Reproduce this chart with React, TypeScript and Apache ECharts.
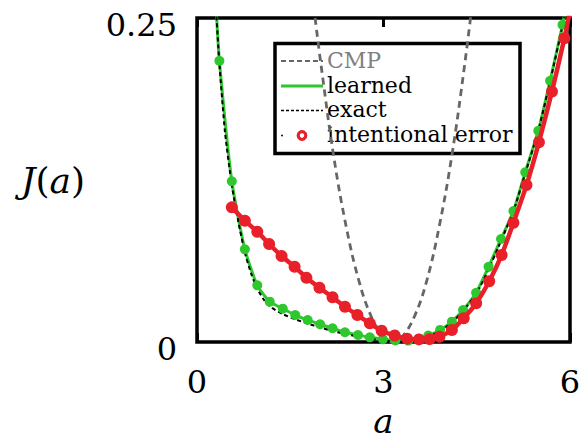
import React, { useEffect, useRef } from "react";
import * as echarts from "echarts";

// x ticks and y ticks
const xTicks = [0, 3, 6];
const yTicks = [0, 0.25];

// CMP (gray dashed)
const cmpA = [1.9, 2.0, 2.2, 2.4, 2.6, 2.8, 3.0, 3.15, 3.3, 3.5, 3.7, 3.9, 4.1, 4.3, 4.45];
const cmpJ = [0.25, 0.212, 0.143, 0.089, 0.048, 0.02, 0.004, 0.0, 0.004, 0.02, 0.048, 0.09, 0.144, 0.212, 0.27];

// learned (green) sample points
const learnedA = [0.36, 0.56, 0.77, 0.97, 1.17, 1.38, 1.58, 1.78, 1.98, 2.18, 2.38, 2.59, 2.78, 2.99, 3.19, 3.4, 3.57, 3.72, 3.91, 4.1, 4.28, 4.49, 4.69, 4.89, 5.09, 5.28, 5.49, 5.68, 5.88];
const learnedJ = [0.217, 0.124, 0.0715, 0.0437, 0.0311, 0.0257, 0.0208, 0.017, 0.0137, 0.0106, 0.0075, 0.0054, 0.0036, 0.0021, 0.0012, 0.0011, 0.0025, 0.005, 0.0093, 0.0157, 0.0247, 0.038, 0.058, 0.0795, 0.101, 0.131, 0.163, 0.2016, 0.2448];
const learnedStart = [0.31, 0.256];
const learnedEnd = [5.97, 0.266];

// exact (black dashed)
const exactA = [0.3, 0.36, 0.45, 0.56, 0.66, 0.77, 0.87, 0.97, 1.07, 1.17, 1.38, 1.58, 1.78, 1.98, 2.18, 2.38, 2.59, 2.78, 2.99, 3.19, 3.4, 3.57, 3.72, 3.91, 4.1, 4.28, 4.49, 4.69, 4.89, 5.09, 5.28, 5.49, 5.68, 5.88, 5.97];
const exactJ = [0.262, 0.215, 0.162, 0.121, 0.094, 0.069, 0.053, 0.041, 0.033, 0.0275, 0.0215, 0.0175, 0.0142, 0.0112, 0.0085, 0.0062, 0.0042, 0.0026, 0.0012, 0.0004, 0.0004, 0.0015, 0.004, 0.0085, 0.015, 0.024, 0.037, 0.056, 0.078, 0.101, 0.13, 0.163, 0.201, 0.244, 0.265];

// intentional error (red)
const errorA = [0.56, 0.77, 0.97, 1.16, 1.36, 1.57, 1.76, 1.97, 2.18, 2.38, 2.58, 2.78, 2.97, 3.18, 3.38, 3.57, 3.74, 3.9, 4.1, 4.29, 4.49, 4.7, 4.9, 5.09, 5.3, 5.5, 5.71, 5.91];
const errorJ = [0.1039, 0.0936, 0.0851, 0.0756, 0.0664, 0.0581, 0.0496, 0.0419, 0.0345, 0.0272, 0.0208, 0.0144, 0.0087, 0.005, 0.0026, 0.002, 0.0022, 0.0041, 0.0093, 0.0183, 0.0299, 0.0469, 0.0671, 0.092, 0.1211, 0.1541, 0.1933, 0.2344];
const errorEnd = [5.99, 0.253];

const legendNames = ["CMP", "learned", "exact", "intentional error"];

const GREEN = "#2ec82e";
const RED = "#e8202a";
const SERIF = "DejaVu Serif";

const zip = (a: number[], b: number[]) => a.map((v, i) => [v, b[i]]);

export default function App() {
  const ref = useRef<HTMLDivElement>(null);
  useEffect(() => {
    if (!ref.current) return;
    const chart = echarts.init(ref.current, undefined, { renderer: "svg" });
    const learnedPts = zip(learnedA, learnedJ);
    const errorPts = zip(errorA, errorJ);
    const legX = 275;
    const legY = 43.5;
    const rowY = [61, 86, 110.5, 135.5];
    chart.setOption({
      animation: false,
      textStyle: { fontFamily: SERIF },
      grid: {
        left: 197,
        right: 18,
        top: 18,
        bottom: 97,
        show: true,
        borderColor: "#000",
        borderWidth: 3.5,
        backgroundColor: "#fff",
        containLabel: false,
        outerBoundsMode: "none",
      },
      xAxis: [
        {
          type: "value",
          min: xTicks[0],
          max: xTicks[xTicks.length - 1],
          interval: 3,
          splitLine: { show: false },
          axisLine: { show: false },
          axisTick: { show: true, inside: true, length: 9, lineStyle: { width: 3, color: "#000" } },
          axisLabel: {
            fontSize: 32,
            fontFamily: SERIF,
            color: "#000",
            margin: 24,
            showMinLabel: true,
            showMaxLabel: true,
          },
          name: "a",
          nameLocation: "middle",
          nameGap: 62,
          nameTextStyle: { fontSize: 34, fontFamily: SERIF, fontStyle: "italic", color: "#000" },
        },
        {
          type: "value",
          position: "top",
          min: xTicks[0],
          max: xTicks[xTicks.length - 1],
          interval: 3,
          splitLine: { show: false },
          axisLine: { show: false },
          axisTick: { show: true, inside: true, length: 9, lineStyle: { width: 3, color: "#000" } },
          axisLabel: { show: false },
        },
      ],
      yAxis: {
        type: "value",
        min: yTicks[0],
        max: yTicks[yTicks.length - 1],
        interval: 0.25,
        splitLine: { show: false },
        axisLine: { show: false },
        axisTick: { show: false },
        axisLabel: {
          fontSize: 32,
          fontFamily: SERIF,
          color: "#000",
          margin: 20,
          verticalAlign: "top",
          lineHeight: 14,
          showMinLabel: true,
          showMaxLabel: true,
        },
        name: "{i|J}{r|(}{i|a}{r|)}",
        nameLocation: "middle",
        nameRotate: 0,
        nameGap: 112,
        nameTextStyle: {
          color: "#000",
          fontFamily: SERIF,
          fontSize: 36,
          rich: {
            i: { fontSize: 36, fontFamily: SERIF, fontStyle: "italic", color: "#000" },
            r: { fontSize: 36, fontFamily: SERIF, color: "#000" },
          },
        },
      },
      series: [
        {
          name: legendNames[0],
          type: "line",
          data: zip(cmpA, cmpJ),
          smooth: 0.4,
          showSymbol: false,
          lineStyle: { color: "#666", width: 2.8, type: [7, 5] },
          z: 1,
        },
        {
          name: legendNames[1],
          type: "line",
          data: [learnedStart, ...learnedPts, learnedEnd],
          smooth: 0.2,
          showSymbol: false,
          lineStyle: { color: GREEN, width: 3 },
          z: 2,
        },
        {
          name: legendNames[2],
          type: "line",
          data: zip(exactA, exactJ),
          smooth: 0.2,
          showSymbol: false,
          lineStyle: { color: "#000", width: 2, type: [4, 3] },
          z: 3,
        },
        {
          name: legendNames[1] + " points",
          type: "scatter",
          data: learnedPts,
          symbolSize: 10,
          itemStyle: { color: GREEN, opacity: 1 },
          z: 4,
        },
        {
          name: legendNames[3],
          type: "line",
          data: [...errorPts, errorEnd],
          smooth: 0.2,
          showSymbol: false,
          lineStyle: { color: RED, width: 4.5 },
          z: 5,
        },
        {
          name: legendNames[3] + " points",
          type: "scatter",
          data: errorPts,
          symbolSize: 12,
          itemStyle: { color: RED, opacity: 1 },
          z: 6,
        },
      ],
      graphic: [
        {
          type: "group",
          z: 100,
          children: [
            {
              type: "rect",
              shape: { x: legX, y: legY, width: 245, height: 110 },
              style: { fill: "#fff", stroke: "#000", lineWidth: 3.5 },
            },
            {
              type: "line",
              shape: { x1: 281, y1: rowY[0], x2: 323, y2: rowY[0] },
              style: { stroke: "#666", lineWidth: 2, lineDash: [5, 3] },
            },
            {
              type: "line",
              shape: { x1: 281, y1: rowY[1], x2: 323, y2: rowY[1] },
              style: { stroke: GREEN, lineWidth: 3 },
            },
            {
              type: "line",
              shape: { x1: 281, y1: rowY[2], x2: 323, y2: rowY[2] },
              style: { stroke: "#000", lineWidth: 1.4, lineDash: [3, 2] },
            },
            {
              type: "circle",
              shape: { cx: 282, cy: rowY[3], r: 0.9 },
              style: { fill: "#000" },
            },
            {
              type: "circle",
              shape: { cx: 302, cy: rowY[3], r: 3.8 },
              style: { fill: "#fff", stroke: RED, lineWidth: 3.2 },
            },
            ...legendNames.map((n, i) => ({
              type: "text",
              x: 327,
              y: rowY[i] - 1,
              style: {
                text: n,
                fontSize: 22,
                fontFamily: SERIF,
                fill: i === 0 ? "#808080" : "#000",
                verticalAlign: "middle",
                align: "left",
              },
            })),
          ],
        },
      ],
    });
    return () => chart.dispose();
  }, []);
  return (
    <div
      ref={ref}
      style={{ position: "absolute", left: 0, top: 0, width: 588, height: 439, background: "#fff" }}
    />
  );
}
